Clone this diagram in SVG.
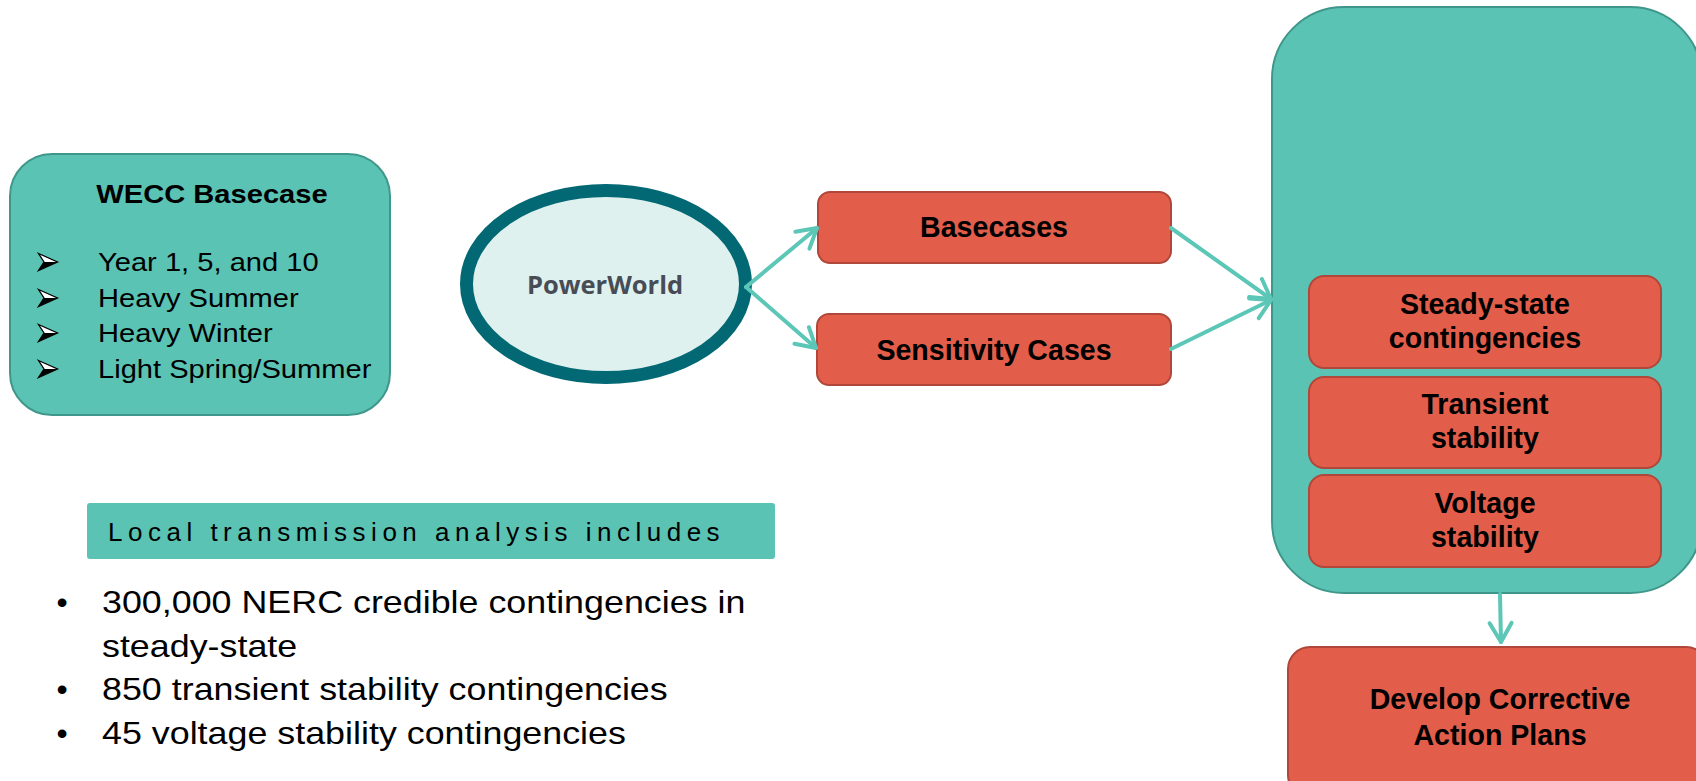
<svg xmlns="http://www.w3.org/2000/svg" width="1696" height="781" viewBox="0 0 1696 781">
  <defs>
    <style>
      .teal { fill: #5ac3b4; stroke: #3f978b; stroke-width: 2; }
      .red { fill: #e35e4a; stroke: #b0473a; stroke-width: 2; }
      .lbl { font-family: "Liberation Sans", Arial, sans-serif; font-weight: 700; font-size: 28.6px; fill: #000; text-anchor: middle; }
      .body { font-family: "Liberation Sans", Arial, sans-serif; fill: #000; }
      .link { fill: none; stroke: #5cc6b7; stroke-width: 4; stroke-linecap: round; }
    </style>
    <marker id="chev" markerUnits="userSpaceOnUse" viewBox="-24 -14 28 28" markerWidth="28" markerHeight="28" refX="0" refY="0" orient="auto" overflow="visible">
      <path d="M-19,-11 L0,0 L-19,11" fill="none" stroke="#5cc6b7" stroke-width="4" stroke-linecap="round" stroke-linejoin="round"/>
    </marker>
    <!-- arrowhead list bullet: outlined upper half, solid lower half -->
    <g id="bullet-arrow">
      <path d="M0.5,0.5 L19.5,9 L0.5,17.5 L6,9 Z" fill="#ffffff" stroke="#000" stroke-width="1.3" stroke-linejoin="miter"/>
      <path d="M6,9 L19.5,9 L0.5,17.5 Z" fill="#000"/>
    </g>
  </defs>

  <rect width="1696" height="781" fill="#ffffff"/>

  <!-- input basecase summary -->
  <g id="wecc-basecase">
    <rect class="teal" x="10" y="154" width="380" height="261" rx="42"/>
    <text class="body" font-weight="700" font-size="26" text-anchor="middle" transform="translate(212,203) scale(1.12,1)">WECC Basecase</text>
    <use href="#bullet-arrow" x="38" y="253"/>
    <use href="#bullet-arrow" x="38" y="289"/>
    <use href="#bullet-arrow" x="38" y="324"/>
    <use href="#bullet-arrow" x="38" y="360"/>
    <text class="body" font-size="26" transform="translate(98,271) scale(1.12,1)">Year 1, 5, and 10</text>
    <text class="body" font-size="26" transform="translate(98,306.5) scale(1.12,1)">Heavy Summer</text>
    <text class="body" font-size="26" transform="translate(98,342) scale(1.12,1)">Heavy Winter</text>
    <text class="body" font-size="26" transform="translate(98,377.5) scale(1.12,1)">Light Spring/Summer</text>
  </g>

  <!-- simulation tool -->
  <g id="powerworld">
    <ellipse cx="606" cy="284" rx="139.5" ry="93.5" fill="#dff1ef" stroke="#026873" stroke-width="13"/>
    <text x="605" y="294" text-anchor="middle" font-family="Open Sans, sans-serif" font-weight="700" font-size="25.5" fill="#474c55">PowerWorld</text>
  </g>

  <g id="basecases">
    <rect class="red" x="818" y="192" width="353" height="71" rx="12"/>
    <text class="lbl" x="994" y="237">Basecases</text>
  </g>

  <g id="sensitivity-cases">
    <rect class="red" x="817" y="314" width="354" height="71" rx="12"/>
    <text class="lbl" x="994" y="360">Sensitivity Cases</text>
  </g>

  <!-- analysis panel with its three studies -->
  <g id="analysis-panel">
    <rect class="teal" x="1272" y="7" width="430" height="586" rx="72"/>
  </g>

  <g id="steady-state">
    <rect class="red" x="1309" y="276" width="352" height="92" rx="15"/>
    <text class="lbl" x="1485" y="314">Steady-state</text>
    <text class="lbl" x="1485" y="348">contingencies</text>
  </g>

  <g id="transient-stability">
    <rect class="red" x="1309" y="377" width="352" height="91" rx="15"/>
    <text class="lbl" x="1485" y="414">Transient</text>
    <text class="lbl" x="1485" y="448">stability</text>
  </g>

  <g id="voltage-stability">
    <rect class="red" x="1309" y="475" width="352" height="92" rx="15"/>
    <text class="lbl" x="1485" y="513">Voltage</text>
    <text class="lbl" x="1485" y="547">stability</text>
  </g>

  <g id="corrective-plans">
    <rect class="red" x="1288" y="647" width="420" height="150" rx="22"/>
    <text class="lbl" x="1500" y="709" font-size="29.2">Develop Corrective</text>
    <text class="lbl" x="1500" y="745" font-size="29.2">Action Plans</text>
  </g>

  <!-- scope summary -->
  <g id="scope-header">
    <rect x="87" y="503" width="688" height="56" rx="3" fill="#5ac3b4"/>
    <text class="body" x="108" y="541" font-size="26" letter-spacing="5.5" fill="#111">Local transmission analysis includes</text>
  </g>

  <g id="scope-list">
    <g class="body" font-size="32" text-anchor="middle">
      <text x="62" y="613">•</text>
      <text x="62" y="700">•</text>
      <text x="62" y="744">•</text>
    </g>
    <text class="body" font-size="32" transform="translate(102,613) scale(1.12,1)">300,000 NERC credible contingencies in</text>
    <text class="body" font-size="32" transform="translate(102,657) scale(1.12,1)">steady-state</text>
    <text class="body" font-size="32" transform="translate(102,700) scale(1.12,1)">850 transient stability contingencies</text>
    <text class="body" font-size="32" transform="translate(102,744) scale(1.12,1)">45 voltage stability contingencies</text>
  </g>

  <!-- connectors -->
  <g id="connectors">
    <line class="link" x1="746" y1="287" x2="817" y2="228" marker-end="url(#chev)"/>
    <line class="link" x1="746" y1="287" x2="816" y2="348" marker-end="url(#chev)"/>
    <line class="link" x1="1171" y1="228" x2="1271" y2="299" marker-end="url(#chev)"/>
    <line class="link" x1="1171" y1="349" x2="1271" y2="300" marker-end="url(#chev)"/>
    <line class="link" x1="1500" y1="594" x2="1501" y2="642" marker-end="url(#chev)"/>
  </g>
</svg>
